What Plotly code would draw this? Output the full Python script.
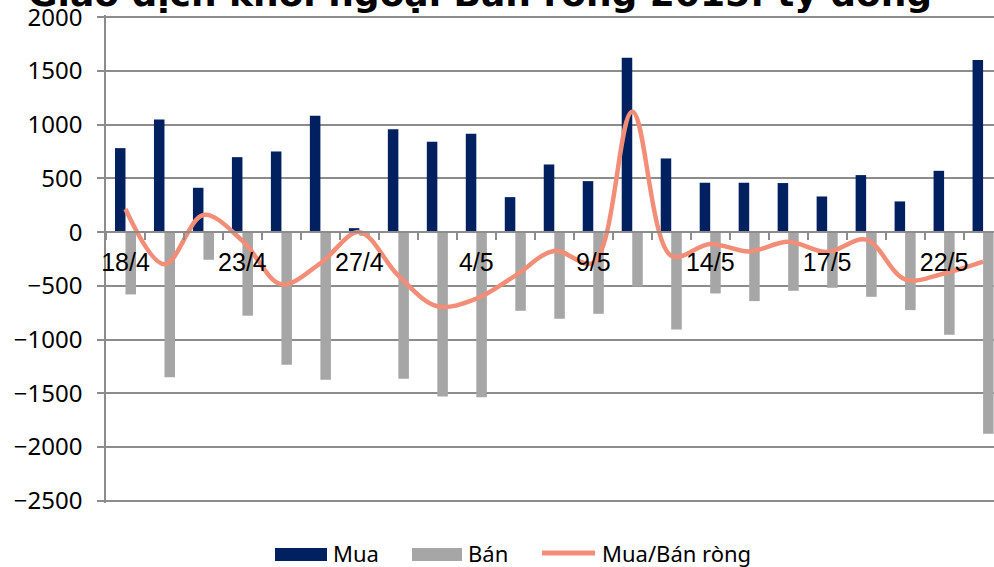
import plotly.graph_objects as go

# ---- data ----
categories = list(range(23))
tick_labels = ["18/4", "", "", "23/4", "", "", "27/4", "", "", "4/5", "", "",
               "9/5", "", "", "14/5", "", "", "17/5", "", "", "22/5", ""]
mua = [782, 1049, 413, 698, 751, 1084, 37, 959, 842, 916, 326, 630, 475,
       1624, 686, 460, 460, 457, 332, 531, 286, 571, 1602]
ban = [-580, -1350, -257, -778, -1235, -1374, -35, -1365, -1530, -1536, -732,
       -807, -760, -506, -906, -571, -642, -546, -518, -602, -726, -955, -1877]
rong = [215, -300, 160, -80, -485, -290, 0, -405, -690, -620, -405, -175,
        -285, 1120, -220, -110, -180, -90, -185, -70, -440, -385, -275]
y_ticks = [2000, 1500, 1000, 500, 0, -500, -1000, -1500, -2000, -2500]
title_text = "Giao dịch khối ngoại Bán ròng 2015: tỷ đồng"
legend_names = ["Mua", "Bán", "Mua/Bán ròng"]

NAVY = "#002060"
GREY = "#A6A6A6"
SALMON = "#F28E78"
GRID = "#8C8C8C"

W, H = 994, 567
L, T, B = 106, 15, 64
PW = W - L
PH = H - T - B
Y_LO, Y_HI = -2521.4, 2021.4

def px_x(p):
    return (p - L) / PW

def px_y(p):
    return (H - B - p) / PH

fig = go.Figure()
cats = [str(c) for c in categories]
fig.add_trace(go.Bar(x=cats, y=mua, name=legend_names[0], marker_color=NAVY,
                     marker_line_width=0, showlegend=False))
fig.add_trace(go.Bar(x=cats, y=ban, name=legend_names[1], marker_color=GREY,
                     marker_line_width=0, showlegend=False))
fig.add_trace(go.Scatter(x=cats, y=rong, name=legend_names[2], mode="lines",
                         line=dict(color=SALMON, width=4.5, shape="spline", smoothing=1.0),
                         showlegend=False))

fig.update_layout(
    width=W, height=H,
    margin=dict(l=L, r=0, t=T, b=B, autoexpand=False),
    paper_bgcolor="white", plot_bgcolor="white",
    barmode="group", bargap=0.46, bargroupgap=0,
    showlegend=False,
    font=dict(family="Noto Sans", color="black"),
)

fig.update_xaxes(
    type="category",
    range=[-0.5, 22.28],
    tickmode="array", tickvals=cats, ticktext=tick_labels,
    tickson="boundaries", tickangle=0,
    ticks="outside", ticklen=7, tickwidth=1.5, tickcolor=GRID,
    showline=True, linecolor=GRID, linewidth=1.5,
    showgrid=False, automargin=False,
    anchor="free", position=(0 - Y_LO) / (Y_HI - Y_LO),
    tickfont=dict(family="Liberation Sans", size=25, color="black"),
    ticklabelstandoff=8,
)
fig.update_yaxes(
    range=[Y_LO, Y_HI],
    tickmode="array", tickvals=y_ticks,
    ticks="outside", ticklen=7, tickwidth=1.5, tickcolor=GRID,
    showline=True, linecolor=GRID, linewidth=1.5,
    showgrid=True, gridcolor=GRID, gridwidth=1.5,
    zeroline=True, zerolinecolor=GRID, zerolinewidth=1.5,
    automargin=False, ticklabeloverflow="allow",
    tickfont=dict(family="Noto Sans", size=24, color="black"),
    ticklabelstandoff=10,
)

# title (partly cut off at the top, as in the reference)
fig.add_annotation(text="<b>" + title_text + "</b>", xref="paper", yref="paper",
                   x=px_x(480), y=px_y(17.3), xanchor="center", yanchor="bottom", yshift=1,
                   showarrow=False, font=dict(family="DejaVu Sans", size=36, color="black"))

# custom legend
ly = 553
fig.add_shape(type="rect", xref="paper", yref="paper",
              x0=px_x(275), x1=px_x(327), y0=px_y(548), y1=px_y(561),
              fillcolor=NAVY, line_width=0)
fig.add_shape(type="rect", xref="paper", yref="paper",
              x0=px_x(412), x1=px_x(462), y0=px_y(548), y1=px_y(561),
              fillcolor=GREY, line_width=0)
fig.add_shape(type="line", xref="paper", yref="paper",
              x0=px_x(542), x1=px_x(595), y0=px_y(ly), y1=px_y(ly),
              line=dict(color=SALMON, width=5))
for name, xp in zip(legend_names, [331, 466, 600]):
    fig.add_annotation(text=name, xref="paper", yref="paper", x=px_x(xp), y=px_y(ly),
                       xanchor="left", yanchor="middle", showarrow=False,
                       font=dict(family="Noto Sans", size=22, color="black"))

fig.write_html("out.html", config={"displayModeBar": False},
               post_script="document.body.style.margin='0';document.body.style.padding='0';document.body.style.overflow='hidden';")
